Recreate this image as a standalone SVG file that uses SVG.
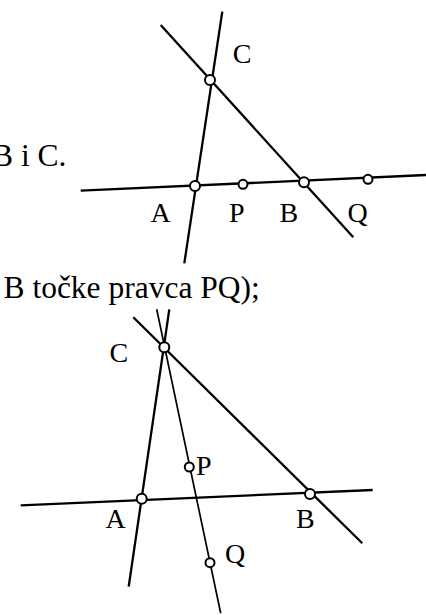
<svg xmlns="http://www.w3.org/2000/svg" width="426" height="615" viewBox="0 0 426 615">
<style>
.ln{stroke:#000;stroke-width:2.3;fill:none;stroke-linecap:butt}
.thin{stroke:#000;stroke-width:1.7;fill:none}
.pt{fill:#fff;stroke:#000;stroke-width:2}
text{font-family:'Liberation Serif','DejaVu Serif',serif;fill:#000}
.lbl{font-size:28px}
.txt{font-size:31.5px}
</style>
<rect width="426" height="615" fill="#fff"/>
<text class="txt" x="-8" y="166">B i C.</text>
<text class="txt" x="3.5" y="298">B točke pravca PQ);</text>
<g id="connectors">
<line class="ln" x1="222.3" y1="11.7" x2="184.3" y2="263.3"/>
<line class="ln" x1="160.7" y1="25" x2="353.3" y2="237.3"/>
<line class="ln" x1="80.7" y1="190.7" x2="426" y2="175"/>
<line class="ln" x1="169.3" y1="309.3" x2="128.7" y2="586.7"/>
<line class="thin" x1="156.7" y1="309.3" x2="220.7" y2="613.3"/>
<line class="ln" x1="133.3" y1="317.3" x2="362.3" y2="543.3"/>
<line class="ln" x1="20.7" y1="505.3" x2="372.7" y2="490"/>
</g>
<g id="fig1-C"><circle class="pt" cx="210" cy="80" r="5"/><text class="lbl" x="232.7" y="63">C</text></g>
<g id="fig1-A"><circle class="pt" cx="195" cy="186" r="5"/><text class="lbl" x="150.5" y="221.7">A</text></g>
<g id="fig1-P"><circle class="pt" cx="243" cy="184.3" r="4.5"/><text class="lbl" x="229" y="221.7">P</text></g>
<g id="fig1-B"><circle class="pt" cx="304" cy="182.3" r="5"/><text class="lbl" x="279.5" y="221.7">B</text></g>
<g id="fig1-Q"><circle class="pt" cx="368" cy="179.3" r="4.5"/><text class="lbl" x="347.5" y="221.7">Q</text></g>
<g id="fig2-C"><circle class="pt" cx="164.3" cy="347.3" r="5"/><text class="lbl" x="109.5" y="361.7">C</text></g>
<g id="fig2-P"><circle class="pt" cx="189.3" cy="467" r="4.5"/><text class="lbl" x="196" y="475">P</text></g>
<g id="fig2-A"><circle class="pt" cx="141.7" cy="498.7" r="5"/><text class="lbl" x="105.5" y="528.3">A</text></g>
<g id="fig2-B"><circle class="pt" cx="310" cy="494" r="5"/><text class="lbl" x="296" y="528.3">B</text></g>
<g id="fig2-Q"><circle class="pt" cx="210" cy="562.7" r="4.5"/><text class="lbl" x="225" y="563">Q</text></g>
</svg>
